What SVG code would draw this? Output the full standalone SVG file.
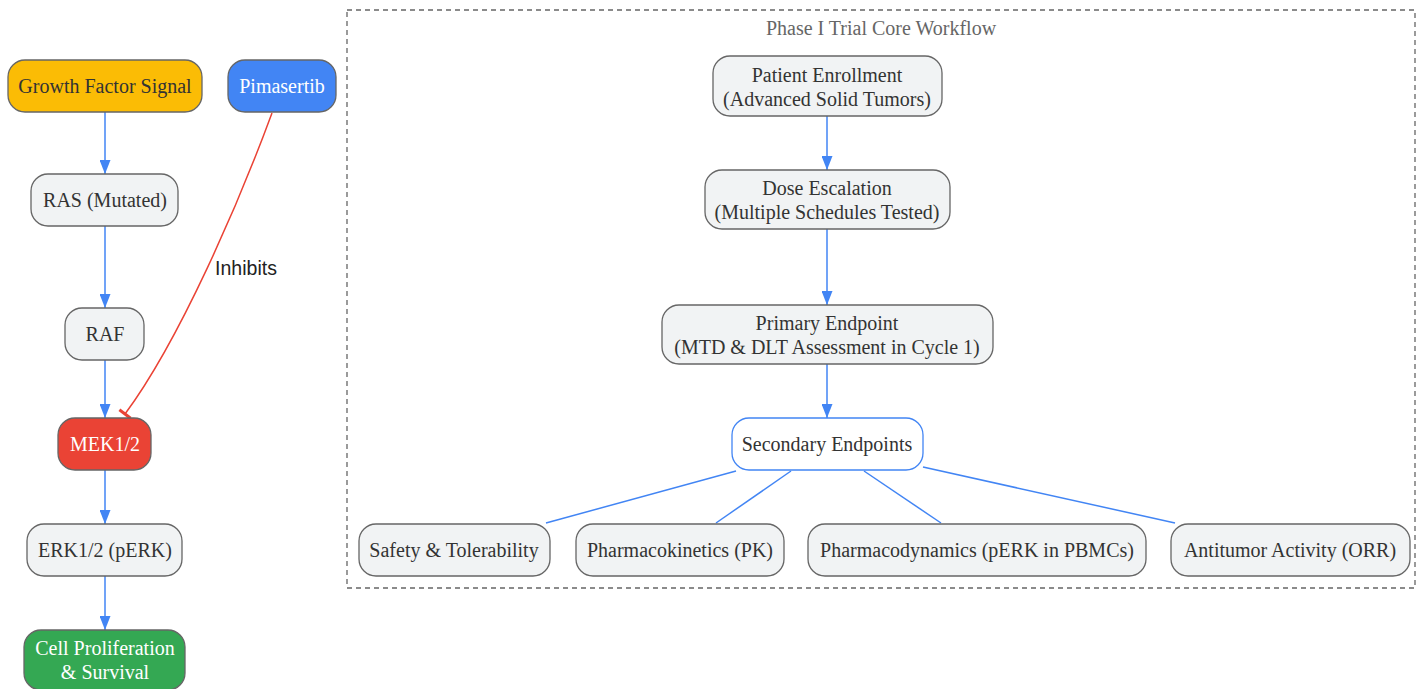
<svg xmlns="http://www.w3.org/2000/svg" width="1420" height="689" viewBox="0 0 1420 689">
<style>
.n rect{stroke:#666;stroke-width:1.3}
.g{fill:#f1f3f4}
.t{font-family:"Liberation Serif","Times New Roman",serif;font-size:20px;fill:#333;text-anchor:middle}
.w{fill:#fff}
.e{fill:none;stroke:#4285f4;stroke-width:1.5}
</style>
<defs>
<marker id="ah" viewBox="0 0 14 11" refX="14" refY="5.5" markerWidth="14" markerHeight="11" markerUnits="userSpaceOnUse" orient="auto">
<path d="M0,0 L14,5.5 L0,11 Z" fill="#4285f4"/>
</marker>
</defs>
<rect width="1420" height="689" fill="#fff"/>
<g id="cluster">
<rect x="347" y="10" width="1068" height="578" fill="none" stroke="#666" stroke-width="1.3" stroke-dasharray="5,4"/>
<text class="t" x="881" y="35" style="fill:#666">Phase I Trial Core Workflow</text>
</g>
<g id="connectors">
<path class="e" d="M105,112 V174" marker-end="url(#ah)"/>
<path class="e" d="M105,226 V308" marker-end="url(#ah)"/>
<path class="e" d="M105,360 V418" marker-end="url(#ah)"/>
<path class="e" d="M105,470 V524" marker-end="url(#ah)"/>
<path class="e" d="M105,576 V630" marker-end="url(#ah)"/>
<path d="M272,113 C240,200 180,340 125,414" fill="none" stroke="#ea4335" stroke-width="1.5"/>
<path d="M119.4,409.8 L130.6,418.2" stroke="#ea4335" stroke-width="3"/>
<text x="246" y="275" style="font-family:'Liberation Sans',Arial,sans-serif;font-size:19.5px;fill:#222;text-anchor:middle">Inhibits</text>
<path class="e" d="M827,116 V170" marker-end="url(#ah)"/>
<path class="e" d="M827,229 V305" marker-end="url(#ah)"/>
<path class="e" d="M827,364 V418" marker-end="url(#ah)"/>
<path class="e" d="M736,471 L546,523"/>
<path class="e" d="M791,471 L716,523"/>
<path class="e" d="M864,471 L941,523"/>
<path class="e" d="M923,467 L1175,523"/>
</g>
<g id="growth" class="n"><rect x="8" y="60" width="194" height="52" rx="17" fill="#fbbc05"/><text class="t" x="105" y="93">Growth Factor Signal</text></g>
<g id="pimasertib" class="n"><rect x="228" y="60" width="108" height="52" rx="17" fill="#4285f4"/><text class="t w" x="282" y="93">Pimasertib</text></g>
<g id="ras" class="n"><rect x="31" y="174" width="147" height="52" rx="17" class="g"/><text class="t" x="105" y="207">RAS (Mutated)</text></g>
<g id="raf" class="n"><rect x="65" y="308" width="79" height="52" rx="17" class="g"/><text class="t" x="105" y="341">RAF</text></g>
<g id="mek" class="n"><rect x="58" y="418" width="93" height="52" rx="17" fill="#ea4335"/><text class="t w" x="105" y="451">MEK1/2</text></g>
<g id="erk" class="n"><rect x="27" y="524" width="155" height="52" rx="17" class="g"/><text class="t" x="105" y="557">ERK1/2 (pERK)</text></g>
<g id="cell" class="n"><rect x="24" y="630" width="161" height="60" rx="17" fill="#34a853"/><text class="t w" x="105" y="655">Cell Proliferation</text><text class="t w" x="105" y="679">&amp; Survival</text></g>
<g id="enroll" class="n"><rect x="713" y="56" width="229" height="60" rx="17" class="g"/><text class="t" x="827" y="82">Patient Enrollment</text><text class="t" x="827" y="106">(Advanced Solid Tumors)</text></g>
<g id="dose" class="n"><rect x="705" y="170" width="245" height="59" rx="17" class="g"/><text class="t" x="827" y="195">Dose Escalation</text><text class="t" x="827" y="219">(Multiple Schedules Tested)</text></g>
<g id="primary" class="n"><rect x="662" y="305" width="331" height="59" rx="17" class="g"/><text class="t" x="827" y="330">Primary Endpoint</text><text class="t" x="827" y="354">(MTD &amp; DLT Assessment in Cycle 1)</text></g>
<g id="secondary"><rect x="732" y="418" width="191" height="52" rx="17" fill="#fff" stroke="#4285f4" stroke-width="1.3"/><text class="t" x="827" y="451">Secondary Endpoints</text></g>
<g id="safety" class="n"><rect x="359" y="524" width="191" height="52" rx="17" class="g"/><text class="t" x="454" y="557">Safety &amp; Tolerability</text></g>
<g id="pk" class="n"><rect x="576" y="524" width="208" height="52" rx="17" class="g"/><text class="t" x="680" y="557">Pharmacokinetics (PK)</text></g>
<g id="pd" class="n"><rect x="808" y="524" width="338" height="52" rx="17" class="g"/><text class="t" x="977" y="557">Pharmacodynamics (pERK in PBMCs)</text></g>
<g id="orr" class="n"><rect x="1171" y="524" width="239" height="52" rx="17" class="g"/><text class="t" x="1290" y="557">Antitumor Activity (ORR)</text></g>
</svg>
